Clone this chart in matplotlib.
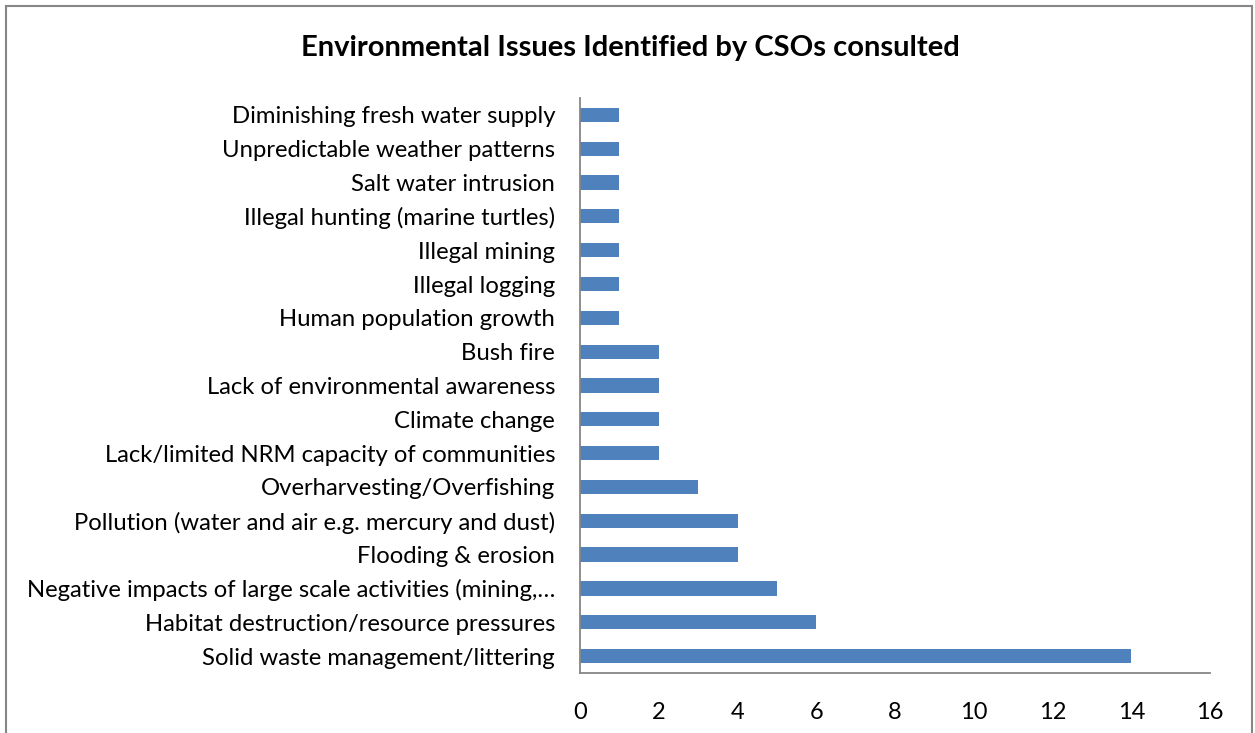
import matplotlib.pyplot as plt
from matplotlib.patches import Rectangle

# issues, listed bottom to top as they appear in the chart
issues = [
    "Solid waste management/littering",
    "Habitat destruction/resource pressures",
    "Negative impacts of large scale activities (mining,\u2026",
    "Flooding & erosion",
    "Pollution (water and air e.g. mercury and dust)",
    "Overharvesting/Overfishing",
    "Lack/limited NRM capacity of communities",
    "Climate change",
    "Lack of environmental awareness",
    "Bush fire",
    "Human population growth",
    "Illegal logging",
    "Illegal mining",
    "Illegal hunting (marine turtles)",
    "Salt water intrusion",
    "Unpredictable weather patterns",
    "Diminishing fresh water supply",
]
counts = [14, 6, 5, 4, 4, 3, 2, 2, 2, 2, 1, 1, 1, 1, 1, 1, 1]
x_ticks = [0, 2, 4, 6, 8, 10, 12, 14, 16]

plt.rcParams["font.family"] = ["Lato", "DejaVu Sans"]

fig = plt.figure(figsize=(12.55, 7.33), dpi=100)
ax = fig.add_axes([0.4622, 0.0819, 0.502, 0.7844])

ypos = list(range(len(issues)))
ax.barh(ypos, counts, height=0.42, color="#4F81BD")
ax.set_yticks(ypos)
ax.set_yticklabels(issues, fontsize=17.2)
ax.set_ylim(-0.5, len(issues) - 0.5)
ax.set_xlim(0, 16)
ax.set_xticks(x_ticks)
ax.set_xticklabels([str(t) for t in x_ticks], fontsize=17)
ax.tick_params(axis="both", length=0)
ax.tick_params(axis="y", pad=18)
ax.tick_params(axis="x", pad=21)

for s in ["top", "right"]:
    ax.spines[s].set_visible(False)
for s in ["left", "bottom"]:
    ax.spines[s].set_color("#868686")
    ax.spines[s].set_linewidth(1.3)

fig.text(0.502, 0.935, "Environmental Issues Identified by CSOs consulted",
         ha="center", va="center", fontsize=21, fontweight="bold")

# chart area border
fig.patches.append(Rectangle((6 / 1255, -0.05), 1246 / 1255, 1.05 - 6 / 733,
                             transform=fig.transFigure, fill=False,
                             edgecolor="#868686", linewidth=1.5))

fig.savefig("out.png", dpi=100)
